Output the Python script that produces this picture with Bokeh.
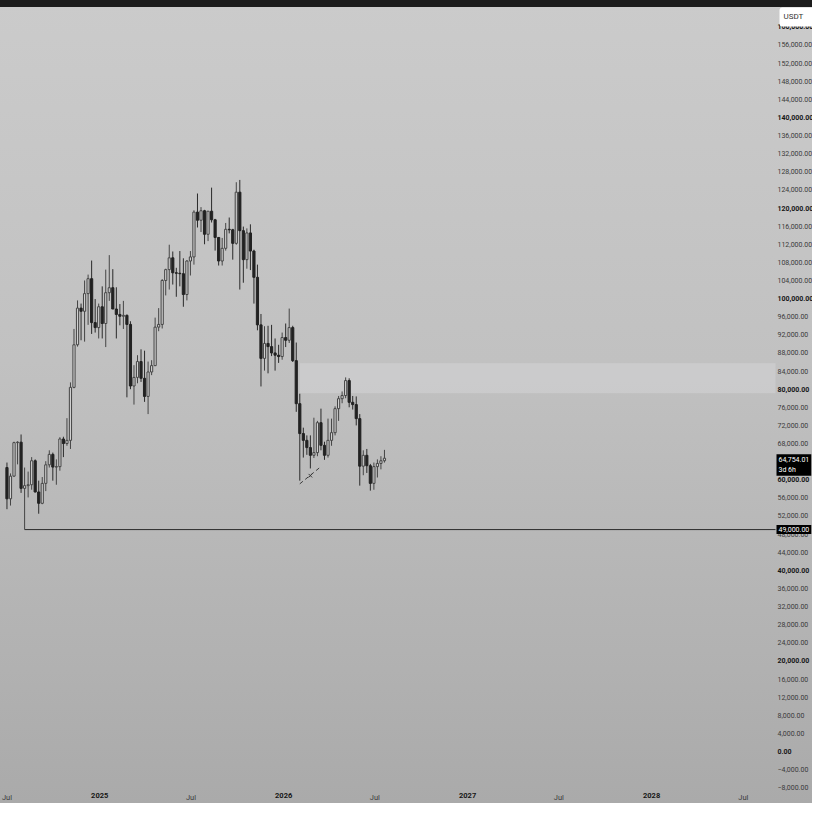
import pandas as pd
from bokeh.plotting import figure
from bokeh.models import (ColumnDataSource, FixedTicker, Label, BoxAnnotation, Range1d,
                          LinearAxis)
from bokeh.embed import file_html
from bokeh.resources import INLINE

# ---------------- data (weekly BTC/USDT candles, thousands of USDT) ----------------
week_start = "2024-07-01"
opens = [62.7, 55.8, 60.8, 68.2, 68.3, 58.1, 58.7, 58.9, 64.2, 57.3, 54.8, 59.2, 63.3, 65.6, 62.8, 62.9,
         69.0, 68.0, 68.7, 80.4, 89.8, 97.9, 97.2, 101.1, 104.4, 94.7, 93.6,
         98.2, 94.5, 101.3, 102.4, 97.7, 96.5, 96.1, 96.3, 94.3, 80.7, 82.6, 86.1, 82.4, 78.4, 83.8, 85.2,
         93.7, 94.3, 104.0, 106.4, 109.0, 105.7, 105.6, 105.5, 100.9, 108.3, 109.2, 119.1, 117.3, 119.4,
         114.2, 119.3, 117.4, 113.5, 108.3, 111.1, 115.3, 115.2, 112.2, 123.5, 115.0, 108.6, 114.5, 110.5,
         104.7, 94.2, 86.8, 90.1, 89.4, 88.0, 87.5, 87.2,
         91.4, 90.8, 93.6, 86.3, 76.8, 70.2, 68.7, 67.1, 65.4, 66.0, 72.6, 67.6, 65.4, 68.7, 70.4, 75.7,
         77.9, 78.6, 81.9, 77.1, 76.6, 73.5, 63.0, 65.4, 63.1, 59.2, 62.9, 63.6, 64.2]
highs = [63.8, 61.4, 68.4, 68.5, 70.0, 62.7, 61.8, 65.0, 64.5, 59.8, 60.6, 64.1, 66.5, 66.0, 64.5, 69.4,
         69.5, 73.6, 81.5, 93.3, 99.6, 98.9, 104.0, 105.3, 108.4, 99.9, 98.9,
         102.7, 106.4, 109.6, 106.5, 102.5, 98.8, 99.5, 96.5, 95.0, 85.3, 87.5, 88.8, 88.5, 86.1, 86.4, 95.8,
         97.9, 104.3, 106.6, 111.9, 110.4, 106.8, 110.5, 108.9, 108.5, 110.5, 119.5, 123.2, 120.2, 119.6,
         119.3, 124.5, 117.6, 113.6, 113.4, 116.7, 117.9, 115.4, 125.7, 126.2, 115.9, 115.5, 116.4, 110.8,
         107.5, 96.6, 93.9, 94.0, 94.2, 91.2, 89.8, 92.5,
         94.5, 97.8, 94.0, 90.3, 79.0, 71.5, 69.8, 69.8, 73.7, 73.0, 75.7, 68.4, 73.5, 73.5, 76.2, 78.5,
         79.5, 82.6, 82.4, 78.5, 78.4, 74.5, 66.5, 66.8, 63.5, 63.8, 64.5, 65.2, 66.6]
lows = [53.5, 54.3, 60.6, 63.4, 57.1, 49.0, 56.1, 57.8, 57.2, 52.5, 54.6, 57.5, 62.7, 59.8, 58.9, 62.0,
        65.0, 67.5, 66.8, 80.2, 89.4, 90.8, 90.5, 94.2, 92.2, 92.5, 91.2,
        91.2, 89.3, 99.5, 97.8, 91.2, 94.1, 93.3, 78.2, 80.0, 76.6, 81.3, 81.6, 77.2, 74.5, 83.1, 85.1,
        92.8, 93.4, 100.7, 102.0, 103.1, 100.4, 102.7, 98.2, 99.6, 105.1, 107.5, 115.7, 114.7, 112.0,
        112.7, 116.8, 110.6, 107.3, 107.3, 110.6, 114.4, 108.6, 111.9, 102.0, 103.5, 106.6, 106.3, 98.9,
        93.0, 80.6, 84.1, 83.5, 87.3, 84.1, 85.8, 86.5,
        89.3, 90.2, 86.0, 75.0, 59.8, 64.9, 65.5, 62.5, 64.8, 65.2, 66.5, 64.4, 64.9, 67.5, 69.8, 73.0,
        76.9, 78.0, 76.0, 75.5, 72.0, 58.7, 61.0, 61.5, 57.6, 57.8, 60.5, 62.3, 63.8]
closes = [55.8, 60.8, 68.2, 68.3, 58.1, 58.7, 58.9, 64.2, 57.3, 54.8, 59.2, 63.3, 65.6, 62.8, 62.9, 69.0,
          68.0, 68.7, 80.4, 89.8, 97.9, 97.2, 101.1, 104.4, 94.7, 93.6, 98.2,
          94.5, 101.3, 102.4, 97.7, 96.5, 96.1, 96.3, 94.3, 80.7, 82.6, 86.1, 82.4, 78.4, 83.8, 85.2, 93.7,
          94.3, 104.0, 106.4, 109.0, 105.7, 105.6, 105.5, 100.9, 108.3, 109.2, 119.1, 117.3, 119.4, 114.2,
          119.3, 117.4, 113.5, 108.3, 111.1, 115.3, 115.2, 112.2, 123.5, 115.0, 108.6, 114.5, 110.5, 104.7,
          94.2, 86.8, 90.1, 89.4, 88.0, 87.5, 87.2, 91.4,
          90.8, 93.6, 86.3, 76.8, 70.2, 68.7, 67.1, 65.4, 66.0, 72.6, 67.6, 65.4, 68.7, 70.4, 75.7, 77.9,
          78.6, 81.9, 77.1, 76.6, 73.5, 63.0, 65.4, 63.1, 59.2, 62.9, 63.6, 64.2, 64.75401]

price_ticks = list(range(-8000, 160001, 4000))
major_price_step = 20000
time_ticks = ["2024-07-01", "2025-01-01", "2025-07-01", "2026-01-01", "2026-07-01",
              "2027-01-01", "2027-07-01", "2028-01-01", "2028-07-01"]
time_labels = ["Jul", "2025", "Jul", "2026", "Jul", "2027", "Jul", "2028", "Jul"]

quote_currency = "USDT"
last_price = 64754.01
bar_countdown = "3d 6h"
support_level = 49000
support_start = "2024-08-05"
zone_start = "2026-02-02"
zone_low, zone_high = 79100, 85700
trend_dates = ["2026-02-02", "2026-03-17"]
trend_prices = [59100, 63000]
cross_dates = ["2026-02-23"]
cross_prices = [60900]

# ---------------- view geometry (pixel scale of the reference) ----------------
FIG_W, FIG_H = 812, 803
PX_PER_DAY = 0.504
X_JAN2025 = 99.2
Y_ZERO, PX_PER_K = 751.0, 4.529
AXIS_REF_X = 775.0                # left edge of the price scale
TIME_AXIS_REF_Y = 791.0           # top of the time-scale labels

JAN = pd.Timestamp("2025-01-01")

def ms(s):
    return pd.Timestamp(s).value / 1e6

def px_to_ms(x):
    return (JAN + pd.Timedelta(days=(x - X_JAN2025) / PX_PER_DAY)).value / 1e6

def px_to_price(y):
    return (Y_ZERO - y) / PX_PER_K * 1000

def fmt(v):
    return f"{v:,.2f}".replace("-", "\u2212")

FONT = "Roboto"
FS_PRICE = "7px"
FS_TIME = "7.5px"
TXT = "#3a3a3a"
TXT_B = "#161616"
WEEK = 7 * 24 * 3600 * 1000

axis_x = px_to_ms(AXIS_REF_X)
time_axis_y = px_to_price(TIME_AXIS_REF_Y)

t0 = pd.Timestamp(week_start)
times = [ms(t0 + pd.Timedelta(weeks=i)) for i in range(len(opens))]

up = dict(t=[], top=[], bottom=[], high=[], low=[])
dn = dict(t=[], top=[], bottom=[], high=[], low=[])
for t, o, h, l, c in zip(times, opens, highs, lows, closes):
    d = up if c >= o else dn
    d["t"].append(t)
    d["top"].append(max(o, c) * 1000)
    d["bottom"].append(min(o, c) * 1000)
    d["high"].append(h * 1000)
    d["low"].append(l * 1000)
src_up = ColumnDataSource(up)
src_dn = ColumnDataSource(dn)

p = figure(width=FIG_W, height=FIG_H,
           x_range=Range1d(px_to_ms(0), px_to_ms(FIG_W)),
           y_range=Range1d(px_to_price(FIG_H), px_to_price(0)),
           x_axis_location=None, y_axis_location=None,
           output_backend="svg", toolbar_location=None, min_border=0)
p.background_fill_alpha = 0
p.border_fill_alpha = 0
p.outline_line_color = None
p.grid.visible = False
p.styles = {"background": (
    "linear-gradient(to bottom, #1c1c1c 0px, #1c1c1c 7px, transparent 7px), "
    "linear-gradient(to bottom, #cbcbcb 0%, #c1c1c1 45%, #aaaaaa 100%)")}

# zone
p.add_layout(BoxAnnotation(left=ms(zone_start), right=axis_x, bottom=zone_low, top=zone_high,
                           fill_color="#e4e5e9", fill_alpha=0.3, line_color=None,
                           level="underlay"))

# support line
p.segment(x0=[ms(support_start)], y0=[support_level], x1=[axis_x], y1=[support_level],
          line_color="#2a2a2a", line_width=1)

# candles
p.segment(x0="t", y0="low", x1="t", y1="high", source=src_up, line_color="#454545", line_width=1)
p.segment(x0="t", y0="low", x1="t", y1="high", source=src_dn, line_color="#2a2a2a", line_width=1)
p.vbar(x="t", width=0.62 * WEEK, top="top", bottom="bottom", source=src_up,
       fill_color="#d0d0d0", line_color="#454545", line_width=1)
p.vbar(x="t", width=0.62 * WEEK, top="top", bottom="bottom", source=src_dn,
       fill_color="#222222", line_color="#222222", line_width=1)

# dashed drawing
p.line(x=[ms(d) for d in trend_dates], y=trend_prices, line_dash="4 3",
       line_color="#3a3a3a", line_width=1)
p.scatter(x=[ms(d) for d in cross_dates], y=cross_prices, marker="x", size=5,
          line_color="#3a3a3a", line_width=1)

# ---------------- axes (price scale and time scale) ----------------
def style_axis(ax, bold, size):
    ax.axis_line_color = None
    ax.major_tick_line_color = None
    ax.minor_tick_line_color = None
    ax.major_tick_out = 0
    ax.major_tick_in = 0
    ax.minor_tick_out = 0
    ax.minor_tick_in = 0
    ax.major_label_text_font = FONT
    ax.major_label_text_font_size = size
    ax.major_label_text_color = TXT_B if bold else TXT
    ax.major_label_text_font_style = "bold" if bold else "normal"

for bold in (False, True):
    ticks = [v for v in price_ticks if (v % major_price_step == 0) == bold]
    ax = LinearAxis(fixed_location=axis_x, ticker=FixedTicker(ticks=ticks, minor_ticks=[]),
                    major_label_overrides={v: fmt(v) for v in ticks}, major_label_standoff=2)
    style_axis(ax, bold, FS_PRICE)
    p.add_layout(ax, "right")

for bold in (False, True):
    pairs = [(t, lab) for t, lab in zip(time_ticks, time_labels) if (lab != "Jul") == bold]
    ax = LinearAxis(fixed_location=time_axis_y,
                    ticker=FixedTicker(ticks=[ms(t) for t, _ in pairs], minor_ticks=[]),
                    major_label_overrides={ms(t): lab for t, lab in pairs}, major_label_standoff=1)
    style_axis(ax, bold, FS_TIME)
    p.add_layout(ax, "below")

# ---------------- price tags ----------------
p.add_layout(Label(x=axis_x, y=support_level, x_offset=1, text=fmt(support_level),
                   text_font=FONT, text_font_size=FS_PRICE, text_color="#ffffff",
                   text_baseline="middle", text_align="left",
                   background_fill_color="#000000", padding=2))
p.add_layout(Label(x=axis_x, y=last_price, x_offset=1, y_offset=4,
                   text=f"{last_price:,.2f}\n{bar_countdown}",
                   text_font=FONT, text_font_size=FS_PRICE, text_color="#ffffff",
                   text_baseline="top", text_align="left",
                   background_fill_color="#000000", padding=2))
p.add_layout(Label(x=axis_x, x_offset=4, y=FIG_H - 7, y_units="screen",
                   text=quote_currency, text_font=FONT, text_font_size="8px", text_color="#333333",
                   text_baseline="top", text_align="left",
                   background_fill_color="#ffffff", border_radius=3,
                   padding=(4, 20, 4, 6)))

open("out.html", "w").write(file_html(p, INLINE))
